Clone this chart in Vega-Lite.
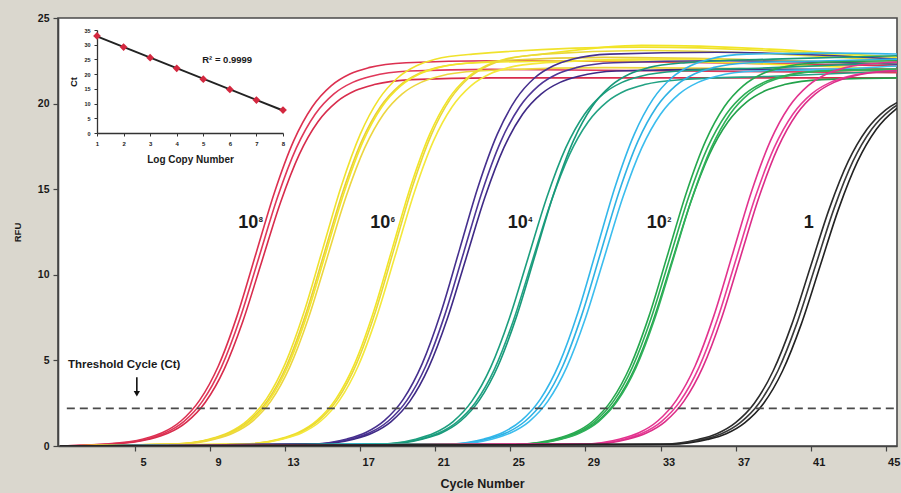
{
"$schema":"https://vega.github.io/schema/vega-lite/v6.json",
"width":839,"height":428,
"autosize":{"type":"none"},
"padding":{"left":58,"top":18,"right":4,"bottom":47},
"background":"#dad7ce",
"config":{"view":{"fill":"white","stroke":"#4a4a4a","strokeWidth":1.6},"font":"Liberation Sans","text":{"font":"Liberation Sans"}},
"datasets":{
"curves":[
{"id":"r1","cycle":1,"rfu":0},{"id":"r1","cycle":3.45,"rfu":0.11},{"id":"r1","cycle":5.45,"rfu":0.41},{"id":"r1","cycle":6.45,"rfu":0.77},{"id":"r1","cycle":7.45,"rfu":1.46},{"id":"r1","cycle":8.45,"rfu":2.68},{"id":"r1","cycle":9.45,"rfu":4.69},{"id":"r1","cycle":10.45,"rfu":7.63},{"id":"r1","cycle":11.45,"rfu":11.25},{"id":"r1","cycle":12.45,"rfu":14.87},{"id":"r1","cycle":13.45,"rfu":17.81},{"id":"r1","cycle":14.45,"rfu":19.82},{"id":"r1","cycle":15.45,"rfu":21.04},{"id":"r1","cycle":16.45,"rfu":21.73},{"id":"r1","cycle":17.45,"rfu":22.1},{"id":"r1","cycle":19.45,"rfu":22.39},{"id":"r1","cycle":24,"rfu":22.5},{"id":"r1","cycle":45.6,"rfu":22.2},
{"id":"r2","cycle":1,"rfu":0},{"id":"r2","cycle":3.6,"rfu":0.11},{"id":"r2","cycle":5.6,"rfu":0.4},{"id":"r2","cycle":6.6,"rfu":0.76},{"id":"r2","cycle":7.6,"rfu":1.43},{"id":"r2","cycle":8.6,"rfu":2.62},{"id":"r2","cycle":9.6,"rfu":4.59},{"id":"r2","cycle":10.6,"rfu":7.46},{"id":"r2","cycle":11.6,"rfu":11.0},{"id":"r2","cycle":12.6,"rfu":14.54},{"id":"r2","cycle":13.6,"rfu":17.41},{"id":"r2","cycle":14.6,"rfu":19.38},{"id":"r2","cycle":15.6,"rfu":20.57},{"id":"r2","cycle":16.6,"rfu":21.24},{"id":"r2","cycle":17.6,"rfu":21.6},{"id":"r2","cycle":19.6,"rfu":21.9},{"id":"r2","cycle":24,"rfu":22.0},{"id":"r2","cycle":45.6,"rfu":21.8},
{"id":"r3","cycle":1,"rfu":0},{"id":"r3","cycle":3.75,"rfu":0.1},{"id":"r3","cycle":5.75,"rfu":0.39},{"id":"r3","cycle":6.75,"rfu":0.74},{"id":"r3","cycle":7.75,"rfu":1.4},{"id":"r3","cycle":8.75,"rfu":2.56},{"id":"r3","cycle":9.75,"rfu":4.48},{"id":"r3","cycle":10.75,"rfu":7.29},{"id":"r3","cycle":11.75,"rfu":10.75},{"id":"r3","cycle":12.75,"rfu":14.21},{"id":"r3","cycle":13.75,"rfu":17.02},{"id":"r3","cycle":14.75,"rfu":18.94},{"id":"r3","cycle":15.75,"rfu":20.1},{"id":"r3","cycle":16.75,"rfu":20.76},{"id":"r3","cycle":17.75,"rfu":21.11},{"id":"r3","cycle":19.75,"rfu":21.4},{"id":"r3","cycle":24,"rfu":21.5},{"id":"r3","cycle":45.6,"rfu":21.5},
{"id":"y1a","cycle":1,"rfu":0},{"id":"y1a","cycle":7,"rfu":0.11},{"id":"y1a","cycle":9,"rfu":0.41},{"id":"y1a","cycle":10,"rfu":0.79},{"id":"y1a","cycle":11,"rfu":1.5},{"id":"y1a","cycle":12,"rfu":2.74},{"id":"y1a","cycle":13,"rfu":4.8},{"id":"y1a","cycle":14,"rfu":7.8},{"id":"y1a","cycle":15,"rfu":11.5},{"id":"y1a","cycle":16,"rfu":15.2},{"id":"y1a","cycle":17,"rfu":18.2},{"id":"y1a","cycle":18,"rfu":20.26},{"id":"y1a","cycle":19,"rfu":21.51},{"id":"y1a","cycle":20,"rfu":22.21},{"id":"y1a","cycle":21,"rfu":22.59},{"id":"y1a","cycle":23,"rfu":22.89},{"id":"y1a","cycle":32,"rfu":23.3},{"id":"y1a","cycle":45.6,"rfu":22.6},
{"id":"y1b","cycle":1,"rfu":0},{"id":"y1b","cycle":7.08,"rfu":0.11},{"id":"y1b","cycle":9.08,"rfu":0.41},{"id":"y1b","cycle":10.08,"rfu":0.77},{"id":"y1b","cycle":11.08,"rfu":1.46},{"id":"y1b","cycle":12.08,"rfu":2.68},{"id":"y1b","cycle":13.08,"rfu":4.69},{"id":"y1b","cycle":14.08,"rfu":7.63},{"id":"y1b","cycle":15.08,"rfu":11.25},{"id":"y1b","cycle":16.08,"rfu":14.87},{"id":"y1b","cycle":17.08,"rfu":17.81},{"id":"y1b","cycle":18.08,"rfu":19.82},{"id":"y1b","cycle":19.08,"rfu":21.04},{"id":"y1b","cycle":20.08,"rfu":21.73},{"id":"y1b","cycle":21.08,"rfu":22.1},{"id":"y1b","cycle":23.08,"rfu":22.39},{"id":"y1b","cycle":30,"rfu":22.7},{"id":"y1b","cycle":45.6,"rfu":22.3},
{"id":"y1c","cycle":1,"rfu":0},{"id":"y1c","cycle":7.16,"rfu":0.11},{"id":"y1c","cycle":9.16,"rfu":0.41},{"id":"y1c","cycle":10.16,"rfu":0.77},{"id":"y1c","cycle":11.16,"rfu":1.46},{"id":"y1c","cycle":12.16,"rfu":2.68},{"id":"y1c","cycle":13.16,"rfu":4.69},{"id":"y1c","cycle":14.16,"rfu":7.63},{"id":"y1c","cycle":15.16,"rfu":11.25},{"id":"y1c","cycle":16.16,"rfu":14.87},{"id":"y1c","cycle":17.16,"rfu":17.81},{"id":"y1c","cycle":18.16,"rfu":19.82},{"id":"y1c","cycle":19.16,"rfu":21.04},{"id":"y1c","cycle":20.16,"rfu":21.73},{"id":"y1c","cycle":21.16,"rfu":22.1},{"id":"y1c","cycle":23.16,"rfu":22.39},{"id":"y1c","cycle":30,"rfu":22.5},{"id":"y1c","cycle":45.6,"rfu":22.0},
{"id":"y1d","cycle":1,"rfu":0},{"id":"y1d","cycle":7.24,"rfu":0.11},{"id":"y1d","cycle":9.24,"rfu":0.4},{"id":"y1d","cycle":10.24,"rfu":0.76},{"id":"y1d","cycle":11.24,"rfu":1.43},{"id":"y1d","cycle":12.24,"rfu":2.62},{"id":"y1d","cycle":13.24,"rfu":4.59},{"id":"y1d","cycle":14.24,"rfu":7.46},{"id":"y1d","cycle":15.24,"rfu":11.0},{"id":"y1d","cycle":16.24,"rfu":14.54},{"id":"y1d","cycle":17.24,"rfu":17.41},{"id":"y1d","cycle":18.24,"rfu":19.38},{"id":"y1d","cycle":19.24,"rfu":20.57},{"id":"y1d","cycle":20.24,"rfu":21.24},{"id":"y1d","cycle":21.24,"rfu":21.6},{"id":"y1d","cycle":23.24,"rfu":21.9},{"id":"y1d","cycle":30,"rfu":22.1},{"id":"y1d","cycle":45.6,"rfu":21.9},
{"id":"y2a","cycle":1,"rfu":0},{"id":"y2a","cycle":10.7,"rfu":0.11},{"id":"y2a","cycle":12.7,"rfu":0.41},{"id":"y2a","cycle":13.7,"rfu":0.79},{"id":"y2a","cycle":14.7,"rfu":1.5},{"id":"y2a","cycle":15.7,"rfu":2.74},{"id":"y2a","cycle":16.7,"rfu":4.8},{"id":"y2a","cycle":17.7,"rfu":7.8},{"id":"y2a","cycle":18.7,"rfu":11.5},{"id":"y2a","cycle":19.7,"rfu":15.2},{"id":"y2a","cycle":20.7,"rfu":18.2},{"id":"y2a","cycle":21.7,"rfu":20.26},{"id":"y2a","cycle":22.7,"rfu":21.51},{"id":"y2a","cycle":23.7,"rfu":22.21},{"id":"y2a","cycle":24.7,"rfu":22.59},{"id":"y2a","cycle":26.7,"rfu":22.89},{"id":"y2a","cycle":32,"rfu":23.4},{"id":"y2a","cycle":45.6,"rfu":22.7},
{"id":"y2b","cycle":1,"rfu":0},{"id":"y2b","cycle":10.8,"rfu":0.11},{"id":"y2b","cycle":12.8,"rfu":0.41},{"id":"y2b","cycle":13.8,"rfu":0.79},{"id":"y2b","cycle":14.8,"rfu":1.5},{"id":"y2b","cycle":15.8,"rfu":2.74},{"id":"y2b","cycle":16.8,"rfu":4.8},{"id":"y2b","cycle":17.8,"rfu":7.8},{"id":"y2b","cycle":18.8,"rfu":11.5},{"id":"y2b","cycle":19.8,"rfu":15.2},{"id":"y2b","cycle":20.8,"rfu":18.2},{"id":"y2b","cycle":21.8,"rfu":20.26},{"id":"y2b","cycle":22.8,"rfu":21.51},{"id":"y2b","cycle":23.8,"rfu":22.21},{"id":"y2b","cycle":24.8,"rfu":22.59},{"id":"y2b","cycle":26.8,"rfu":22.89},{"id":"y2b","cycle":32,"rfu":23.1},{"id":"y2b","cycle":45.6,"rfu":22.5},
{"id":"y2c","cycle":1,"rfu":0},{"id":"y2c","cycle":10.9,"rfu":0.11},{"id":"y2c","cycle":12.9,"rfu":0.41},{"id":"y2c","cycle":13.9,"rfu":0.77},{"id":"y2c","cycle":14.9,"rfu":1.46},{"id":"y2c","cycle":15.9,"rfu":2.68},{"id":"y2c","cycle":16.9,"rfu":4.69},{"id":"y2c","cycle":17.9,"rfu":7.63},{"id":"y2c","cycle":18.9,"rfu":11.25},{"id":"y2c","cycle":19.9,"rfu":14.87},{"id":"y2c","cycle":20.9,"rfu":17.81},{"id":"y2c","cycle":21.9,"rfu":19.82},{"id":"y2c","cycle":22.9,"rfu":21.04},{"id":"y2c","cycle":23.9,"rfu":21.73},{"id":"y2c","cycle":24.9,"rfu":22.1},{"id":"y2c","cycle":26.9,"rfu":22.39},{"id":"y2c","cycle":32,"rfu":22.6},{"id":"y2c","cycle":45.6,"rfu":22.3},
{"id":"p1","cycle":1,"rfu":0},{"id":"p1","cycle":14.3,"rfu":0.11},{"id":"p1","cycle":16.3,"rfu":0.41},{"id":"p1","cycle":17.3,"rfu":0.79},{"id":"p1","cycle":18.3,"rfu":1.5},{"id":"p1","cycle":19.3,"rfu":2.74},{"id":"p1","cycle":20.3,"rfu":4.8},{"id":"p1","cycle":21.3,"rfu":7.8},{"id":"p1","cycle":22.3,"rfu":11.5},{"id":"p1","cycle":23.3,"rfu":15.2},{"id":"p1","cycle":24.3,"rfu":18.2},{"id":"p1","cycle":25.3,"rfu":20.26},{"id":"p1","cycle":26.3,"rfu":21.51},{"id":"p1","cycle":27.3,"rfu":22.21},{"id":"p1","cycle":28.3,"rfu":22.59},{"id":"p1","cycle":30.3,"rfu":22.89},{"id":"p1","cycle":36,"rfu":23.0},{"id":"p1","cycle":45.6,"rfu":22.6},
{"id":"p2","cycle":1,"rfu":0},{"id":"p2","cycle":14.5,"rfu":0.11},{"id":"p2","cycle":16.5,"rfu":0.41},{"id":"p2","cycle":17.5,"rfu":0.77},{"id":"p2","cycle":18.5,"rfu":1.46},{"id":"p2","cycle":19.5,"rfu":2.68},{"id":"p2","cycle":20.5,"rfu":4.69},{"id":"p2","cycle":21.5,"rfu":7.63},{"id":"p2","cycle":22.5,"rfu":11.25},{"id":"p2","cycle":23.5,"rfu":14.87},{"id":"p2","cycle":24.5,"rfu":17.81},{"id":"p2","cycle":25.5,"rfu":19.82},{"id":"p2","cycle":26.5,"rfu":21.04},{"id":"p2","cycle":27.5,"rfu":21.73},{"id":"p2","cycle":28.5,"rfu":22.1},{"id":"p2","cycle":30.5,"rfu":22.39},{"id":"p2","cycle":36,"rfu":22.5},{"id":"p2","cycle":45.6,"rfu":22.3},
{"id":"p3","cycle":1,"rfu":0},{"id":"p3","cycle":14.65,"rfu":0.11},{"id":"p3","cycle":16.65,"rfu":0.4},{"id":"p3","cycle":17.65,"rfu":0.76},{"id":"p3","cycle":18.65,"rfu":1.43},{"id":"p3","cycle":19.65,"rfu":2.62},{"id":"p3","cycle":20.65,"rfu":4.59},{"id":"p3","cycle":21.65,"rfu":7.46},{"id":"p3","cycle":22.65,"rfu":11.0},{"id":"p3","cycle":23.65,"rfu":14.54},{"id":"p3","cycle":24.65,"rfu":17.41},{"id":"p3","cycle":25.65,"rfu":19.38},{"id":"p3","cycle":26.65,"rfu":20.57},{"id":"p3","cycle":27.65,"rfu":21.24},{"id":"p3","cycle":28.65,"rfu":21.6},{"id":"p3","cycle":30.65,"rfu":21.9},{"id":"p3","cycle":36,"rfu":22.0},{"id":"p3","cycle":45.6,"rfu":22.0},
{"id":"t1","cycle":1,"rfu":0},{"id":"t1","cycle":17.95,"rfu":0.11},{"id":"t1","cycle":19.95,"rfu":0.4},{"id":"t1","cycle":20.95,"rfu":0.76},{"id":"t1","cycle":21.95,"rfu":1.43},{"id":"t1","cycle":22.95,"rfu":2.62},{"id":"t1","cycle":23.95,"rfu":4.59},{"id":"t1","cycle":24.95,"rfu":7.46},{"id":"t1","cycle":25.95,"rfu":11.0},{"id":"t1","cycle":26.95,"rfu":14.54},{"id":"t1","cycle":27.95,"rfu":17.41},{"id":"t1","cycle":28.95,"rfu":19.38},{"id":"t1","cycle":29.95,"rfu":20.57},{"id":"t1","cycle":30.95,"rfu":21.24},{"id":"t1","cycle":31.95,"rfu":21.6},{"id":"t1","cycle":33.95,"rfu":21.9},{"id":"t1","cycle":39,"rfu":22.1},{"id":"t1","cycle":45.6,"rfu":22.4},
{"id":"t2","cycle":1,"rfu":0},{"id":"t2","cycle":18.15,"rfu":0.1},{"id":"t2","cycle":20.15,"rfu":0.39},{"id":"t2","cycle":21.15,"rfu":0.74},{"id":"t2","cycle":22.15,"rfu":1.4},{"id":"t2","cycle":23.15,"rfu":2.56},{"id":"t2","cycle":24.15,"rfu":4.48},{"id":"t2","cycle":25.15,"rfu":7.29},{"id":"t2","cycle":26.15,"rfu":10.75},{"id":"t2","cycle":27.15,"rfu":14.21},{"id":"t2","cycle":28.15,"rfu":17.02},{"id":"t2","cycle":29.15,"rfu":18.94},{"id":"t2","cycle":30.15,"rfu":20.1},{"id":"t2","cycle":31.15,"rfu":20.76},{"id":"t2","cycle":32.15,"rfu":21.11},{"id":"t2","cycle":34.15,"rfu":21.4},{"id":"t2","cycle":39,"rfu":21.6},{"id":"t2","cycle":45.6,"rfu":21.9},
{"id":"t3","cycle":1,"rfu":0},{"id":"t3","cycle":18.35,"rfu":0.11},{"id":"t3","cycle":20.35,"rfu":0.41},{"id":"t3","cycle":21.35,"rfu":0.77},{"id":"t3","cycle":22.35,"rfu":1.46},{"id":"t3","cycle":23.35,"rfu":2.68},{"id":"t3","cycle":24.35,"rfu":4.69},{"id":"t3","cycle":25.35,"rfu":7.63},{"id":"t3","cycle":26.35,"rfu":11.25},{"id":"t3","cycle":27.35,"rfu":14.87},{"id":"t3","cycle":28.35,"rfu":17.81},{"id":"t3","cycle":29.35,"rfu":19.82},{"id":"t3","cycle":30.35,"rfu":21.04},{"id":"t3","cycle":31.35,"rfu":21.73},{"id":"t3","cycle":32.35,"rfu":22.1},{"id":"t3","cycle":34.35,"rfu":22.39},{"id":"t3","cycle":39,"rfu":22.6},{"id":"t3","cycle":45.6,"rfu":22.8},
{"id":"b1","cycle":1,"rfu":0},{"id":"b1","cycle":21.6,"rfu":0.11},{"id":"b1","cycle":23.6,"rfu":0.41},{"id":"b1","cycle":24.6,"rfu":0.79},{"id":"b1","cycle":25.6,"rfu":1.5},{"id":"b1","cycle":26.6,"rfu":2.74},{"id":"b1","cycle":27.6,"rfu":4.8},{"id":"b1","cycle":28.6,"rfu":7.8},{"id":"b1","cycle":29.6,"rfu":11.5},{"id":"b1","cycle":30.6,"rfu":15.2},{"id":"b1","cycle":31.6,"rfu":18.2},{"id":"b1","cycle":32.6,"rfu":20.26},{"id":"b1","cycle":33.6,"rfu":21.51},{"id":"b1","cycle":34.6,"rfu":22.21},{"id":"b1","cycle":35.6,"rfu":22.59},{"id":"b1","cycle":37.6,"rfu":22.89},{"id":"b1","cycle":42,"rfu":22.95},{"id":"b1","cycle":45.6,"rfu":22.9},
{"id":"b2","cycle":1,"rfu":0},{"id":"b2","cycle":21.8,"rfu":0.11},{"id":"b2","cycle":23.8,"rfu":0.41},{"id":"b2","cycle":24.8,"rfu":0.77},{"id":"b2","cycle":25.8,"rfu":1.46},{"id":"b2","cycle":26.8,"rfu":2.68},{"id":"b2","cycle":27.8,"rfu":4.69},{"id":"b2","cycle":28.8,"rfu":7.63},{"id":"b2","cycle":29.8,"rfu":11.25},{"id":"b2","cycle":30.8,"rfu":14.87},{"id":"b2","cycle":31.8,"rfu":17.81},{"id":"b2","cycle":32.8,"rfu":19.82},{"id":"b2","cycle":33.8,"rfu":21.04},{"id":"b2","cycle":34.8,"rfu":21.73},{"id":"b2","cycle":35.8,"rfu":22.1},{"id":"b2","cycle":37.8,"rfu":22.39},{"id":"b2","cycle":42,"rfu":22.5},{"id":"b2","cycle":45.6,"rfu":22.6},
{"id":"b3","cycle":1,"rfu":0},{"id":"b3","cycle":22,"rfu":0.11},{"id":"b3","cycle":24,"rfu":0.4},{"id":"b3","cycle":25,"rfu":0.76},{"id":"b3","cycle":26,"rfu":1.43},{"id":"b3","cycle":27,"rfu":2.62},{"id":"b3","cycle":28,"rfu":4.59},{"id":"b3","cycle":29,"rfu":7.46},{"id":"b3","cycle":30,"rfu":11.0},{"id":"b3","cycle":31,"rfu":14.54},{"id":"b3","cycle":32,"rfu":17.41},{"id":"b3","cycle":33,"rfu":19.38},{"id":"b3","cycle":34,"rfu":20.57},{"id":"b3","cycle":35,"rfu":21.24},{"id":"b3","cycle":36,"rfu":21.6},{"id":"b3","cycle":38,"rfu":21.9},{"id":"b3","cycle":42,"rfu":22.0},{"id":"b3","cycle":45.6,"rfu":22.2},
{"id":"g1","cycle":1,"rfu":0},{"id":"g1","cycle":25.4,"rfu":0.11},{"id":"g1","cycle":27.4,"rfu":0.41},{"id":"g1","cycle":28.4,"rfu":0.77},{"id":"g1","cycle":29.4,"rfu":1.46},{"id":"g1","cycle":30.4,"rfu":2.68},{"id":"g1","cycle":31.4,"rfu":4.69},{"id":"g1","cycle":32.4,"rfu":7.63},{"id":"g1","cycle":33.4,"rfu":11.25},{"id":"g1","cycle":34.4,"rfu":14.87},{"id":"g1","cycle":35.4,"rfu":17.81},{"id":"g1","cycle":36.4,"rfu":19.82},{"id":"g1","cycle":37.4,"rfu":21.04},{"id":"g1","cycle":38.4,"rfu":21.73},{"id":"g1","cycle":39.4,"rfu":22.1},{"id":"g1","cycle":41.4,"rfu":22.39},{"id":"g1","cycle":45.6,"rfu":22.5},
{"id":"g2","cycle":1,"rfu":0},{"id":"g2","cycle":25.5,"rfu":0.11},{"id":"g2","cycle":27.5,"rfu":0.4},{"id":"g2","cycle":28.5,"rfu":0.76},{"id":"g2","cycle":29.5,"rfu":1.43},{"id":"g2","cycle":30.5,"rfu":2.62},{"id":"g2","cycle":31.5,"rfu":4.59},{"id":"g2","cycle":32.5,"rfu":7.46},{"id":"g2","cycle":33.5,"rfu":11.0},{"id":"g2","cycle":34.5,"rfu":14.54},{"id":"g2","cycle":35.5,"rfu":17.41},{"id":"g2","cycle":36.5,"rfu":19.38},{"id":"g2","cycle":37.5,"rfu":20.57},{"id":"g2","cycle":38.5,"rfu":21.24},{"id":"g2","cycle":39.5,"rfu":21.6},{"id":"g2","cycle":41.5,"rfu":21.9},{"id":"g2","cycle":45.6,"rfu":22.0},
{"id":"g3","cycle":1,"rfu":0},{"id":"g3","cycle":25.6,"rfu":0.1},{"id":"g3","cycle":27.6,"rfu":0.39},{"id":"g3","cycle":28.6,"rfu":0.74},{"id":"g3","cycle":29.6,"rfu":1.4},{"id":"g3","cycle":30.6,"rfu":2.56},{"id":"g3","cycle":31.6,"rfu":4.48},{"id":"g3","cycle":32.6,"rfu":7.29},{"id":"g3","cycle":33.6,"rfu":10.75},{"id":"g3","cycle":34.6,"rfu":14.21},{"id":"g3","cycle":35.6,"rfu":17.02},{"id":"g3","cycle":36.6,"rfu":18.94},{"id":"g3","cycle":37.6,"rfu":20.1},{"id":"g3","cycle":38.6,"rfu":20.76},{"id":"g3","cycle":39.6,"rfu":21.11},{"id":"g3","cycle":41.6,"rfu":21.4},{"id":"g3","cycle":45.6,"rfu":21.5},
{"id":"g4","cycle":1,"rfu":0},{"id":"g4","cycle":25.7,"rfu":0.11},{"id":"g4","cycle":27.7,"rfu":0.4},{"id":"g4","cycle":28.7,"rfu":0.76},{"id":"g4","cycle":29.7,"rfu":1.43},{"id":"g4","cycle":30.7,"rfu":2.62},{"id":"g4","cycle":31.7,"rfu":4.59},{"id":"g4","cycle":32.7,"rfu":7.46},{"id":"g4","cycle":33.7,"rfu":11.0},{"id":"g4","cycle":34.7,"rfu":14.54},{"id":"g4","cycle":35.7,"rfu":17.41},{"id":"g4","cycle":36.7,"rfu":19.38},{"id":"g4","cycle":37.7,"rfu":20.57},{"id":"g4","cycle":38.7,"rfu":21.24},{"id":"g4","cycle":39.7,"rfu":21.6},{"id":"g4","cycle":41.7,"rfu":21.9},{"id":"g4","cycle":45.6,"rfu":22.0},
{"id":"m1","cycle":1,"rfu":0},{"id":"m1","cycle":28.85,"rfu":0.11},{"id":"m1","cycle":30.85,"rfu":0.41},{"id":"m1","cycle":31.85,"rfu":0.77},{"id":"m1","cycle":32.85,"rfu":1.46},{"id":"m1","cycle":33.85,"rfu":2.68},{"id":"m1","cycle":34.85,"rfu":4.69},{"id":"m1","cycle":35.85,"rfu":7.63},{"id":"m1","cycle":36.85,"rfu":11.25},{"id":"m1","cycle":37.85,"rfu":14.87},{"id":"m1","cycle":38.85,"rfu":17.81},{"id":"m1","cycle":39.85,"rfu":19.82},{"id":"m1","cycle":40.85,"rfu":21.04},{"id":"m1","cycle":41.85,"rfu":21.73},{"id":"m1","cycle":42.85,"rfu":22.1},{"id":"m1","cycle":44.85,"rfu":22.39},{"id":"m1","cycle":45.6,"rfu":22.42},
{"id":"m2","cycle":1,"rfu":0},{"id":"m2","cycle":29.05,"rfu":0.11},{"id":"m2","cycle":31.05,"rfu":0.4},{"id":"m2","cycle":32.05,"rfu":0.76},{"id":"m2","cycle":33.05,"rfu":1.43},{"id":"m2","cycle":34.05,"rfu":2.62},{"id":"m2","cycle":35.05,"rfu":4.59},{"id":"m2","cycle":36.05,"rfu":7.46},{"id":"m2","cycle":37.05,"rfu":11.0},{"id":"m2","cycle":38.05,"rfu":14.54},{"id":"m2","cycle":39.05,"rfu":17.41},{"id":"m2","cycle":40.05,"rfu":19.38},{"id":"m2","cycle":41.05,"rfu":20.57},{"id":"m2","cycle":42.05,"rfu":21.24},{"id":"m2","cycle":43.05,"rfu":21.6},{"id":"m2","cycle":45.05,"rfu":21.9},{"id":"m2","cycle":45.6,"rfu":21.93},
{"id":"m3","cycle":1,"rfu":0},{"id":"m3","cycle":29.25,"rfu":0.11},{"id":"m3","cycle":31.25,"rfu":0.4},{"id":"m3","cycle":32.25,"rfu":0.76},{"id":"m3","cycle":33.25,"rfu":1.43},{"id":"m3","cycle":34.25,"rfu":2.62},{"id":"m3","cycle":35.25,"rfu":4.59},{"id":"m3","cycle":36.25,"rfu":7.46},{"id":"m3","cycle":37.25,"rfu":11.0},{"id":"m3","cycle":38.25,"rfu":14.54},{"id":"m3","cycle":39.25,"rfu":17.41},{"id":"m3","cycle":40.25,"rfu":19.38},{"id":"m3","cycle":41.25,"rfu":20.57},{"id":"m3","cycle":42.25,"rfu":21.24},{"id":"m3","cycle":43.25,"rfu":21.6},{"id":"m3","cycle":45.25,"rfu":21.9},{"id":"m3","cycle":45.6,"rfu":21.92},
{"id":"k1","cycle":1,"rfu":0},{"id":"k1","cycle":33,"rfu":0.1},{"id":"k1","cycle":35,"rfu":0.38},{"id":"k1","cycle":36,"rfu":0.72},{"id":"k1","cycle":37,"rfu":1.37},{"id":"k1","cycle":38,"rfu":2.5},{"id":"k1","cycle":39,"rfu":4.38},{"id":"k1","cycle":40,"rfu":7.12},{"id":"k1","cycle":41,"rfu":10.5},{"id":"k1","cycle":42,"rfu":13.88},{"id":"k1","cycle":43,"rfu":16.62},{"id":"k1","cycle":44,"rfu":18.5},{"id":"k1","cycle":45,"rfu":19.64},{"id":"k1","cycle":46,"rfu":20.28},
{"id":"k2","cycle":1,"rfu":0},{"id":"k2","cycle":33.25,"rfu":0.1},{"id":"k2","cycle":35.25,"rfu":0.38},{"id":"k2","cycle":36.25,"rfu":0.72},{"id":"k2","cycle":37.25,"rfu":1.37},{"id":"k2","cycle":38.25,"rfu":2.5},{"id":"k2","cycle":39.25,"rfu":4.38},{"id":"k2","cycle":40.25,"rfu":7.12},{"id":"k2","cycle":41.25,"rfu":10.5},{"id":"k2","cycle":42.25,"rfu":13.88},{"id":"k2","cycle":43.25,"rfu":16.62},{"id":"k2","cycle":44.25,"rfu":18.5},{"id":"k2","cycle":45.25,"rfu":19.64},{"id":"k2","cycle":46.25,"rfu":20.28},
{"id":"k3","cycle":1,"rfu":0},{"id":"k3","cycle":33.5,"rfu":0.1},{"id":"k3","cycle":35.5,"rfu":0.38},{"id":"k3","cycle":36.5,"rfu":0.72},{"id":"k3","cycle":37.5,"rfu":1.37},{"id":"k3","cycle":38.5,"rfu":2.5},{"id":"k3","cycle":39.5,"rfu":4.38},{"id":"k3","cycle":40.5,"rfu":7.12},{"id":"k3","cycle":41.5,"rfu":10.5},{"id":"k3","cycle":42.5,"rfu":13.88},{"id":"k3","cycle":43.5,"rfu":16.62},{"id":"k3","cycle":44.5,"rfu":18.5},{"id":"k3","cycle":45.5,"rfu":19.64},{"id":"k3","cycle":46.5,"rfu":20.28}
],
"standard":[
{"log":1,"ct":33.0},{"log":2,"ct":29.2},{"log":3,"ct":25.6},{"log":4,"ct":22.0},{"log":5,"ct":18.3},{"log":6,"ct":14.8},{"log":7,"ct":11.2},{"log":8,"ct":7.8}
],
"dilutions":[
{"cycle":11.04,"rfu":13.0,"base":"10","sup":"8"},{"cycle":18.07,"rfu":13.0,"base":"10","sup":"6"},{"cycle":25.4,"rfu":13.0,"base":"10","sup":"4"},{"cycle":32.8,"rfu":13.0,"base":"10","sup":"2"},{"cycle":40.9,"rfu":13.0,"base":"1","sup":""}
]
},
"layer":[
{"layer":[
{"data":{"name":"curves"},
 "mark":{"type":"line","interpolate":"monotone","clip":true,"strokeWidth":1.6},
 "encoding":{
  "x":{"field":"cycle","type":"quantitative","scale":{"domain":[0.9,45.6],"nice":false,"zero":false},
   "axis":{"values":[5,9,13,17,21,25,29,33,37,41,45],"title":"Cycle Number","grid":false,"labelOffset":8,"labelFont":"Liberation Sans","labelFontSize":11,"labelFontWeight":"bold","labelColor":"#1a1a1a","labelPadding":5,"labelFlush":false,"labelOverlap":false,"tickSize":5,"tickColor":"#444","tickWidth":1.2,"domainColor":"#444","domainWidth":1.6,"titleFont":"Liberation Sans","titleFontSize":12.5,"titleFontWeight":"bold","titleColor":"#1a1a1a","titlePadding":10,"titleX":424}},
  "y":{"field":"rfu","type":"quantitative","scale":{"domain":[0,25],"nice":false},
   "axis":{"values":[0,5,10,15,20,25],"title":"RFU","grid":false,"labelFont":"Liberation Sans","labelFontSize":10.5,"labelFontWeight":"bold","labelColor":"#1a1a1a","labelPadding":4,"labelFlush":false,"tickSize":5,"tickColor":"#444","tickWidth":1.2,"domainColor":"#444","domainWidth":1.6,"titleFont":"Liberation Sans","titleFontSize":9.5,"titleFontWeight":"bold","titleColor":"#1a1a1a","titlePadding":15}},
  "color":{"field":"id","type":"nominal","legend":null,
   "scale":{"domain":["r1","r2","r3","y1a","y1b","y1c","y1d","y2a","y2b","y2c","p1","p2","p3","t1","t2","t3","b1","b2","b3","g1","g2","g3","g4","m1","m2","m3","k1","k2","k3"],
    "range":["#dc3050","#e0385a","#d82c4c","#f0e22c","#e6cc3c","#f3e62a","#ecd640","#f2e526","#e9d838","#f4e83a","#46308e","#4e3696","#3f2a86","#1c9e7e","#22a283","#18997a","#33b7ea","#2fb2e4","#3bbdee","#26a84e","#2dae55","#22a24a","#30b15a","#e2338e","#e83c96","#dc2d88","#2b2b2b","#3a3a3a","#222222"]}},
  "detail":{"field":"id"}
 }},
{"data":{"values":[{"cycle":1.37,"cycle2":45.6,"rfu":2.2}]},
 "mark":{"type":"rule","strokeDash":[8,5],"color":"#4a4a4a","strokeWidth":1.6},
 "encoding":{"x":{"field":"cycle","type":"quantitative"},"x2":{"field":"cycle2"},"y":{"field":"rfu","type":"quantitative"}}},
{"data":{"values":[{"cycle":5.1,"rfu":4.02,"rfu2":3.2}]},
 "mark":{"type":"rule","color":"#111","strokeWidth":1.6},
 "encoding":{"x":{"field":"cycle","type":"quantitative"},"y":{"field":"rfu","type":"quantitative"},"y2":{"field":"rfu2"}}},
{"data":{"values":[{"cycle":5.1,"rfu":3.05}]},
 "mark":{"type":"point","shape":"triangle-down","filled":true,"color":"#111","size":40,"opacity":1},
 "encoding":{"x":{"field":"cycle","type":"quantitative"},"y":{"field":"rfu","type":"quantitative"}}},
{"data":{"values":[{"cycle":1.43,"rfu":4.74,"label":"Threshold Cycle (Ct)"}]},
 "mark":{"type":"text","align":"left","baseline":"middle","font":"Liberation Sans","fontSize":11.5,"fontWeight":"bold","color":"#1a1a1a"},
 "encoding":{"x":{"field":"cycle","type":"quantitative"},"y":{"field":"rfu","type":"quantitative"},"text":{"field":"label"}}},
{"data":{"name":"dilutions"},
 "mark":{"type":"text","align":"center","baseline":"middle","font":"Liberation Sans","fontSize":18,"fontWeight":"bold","color":"#1a1a1a"},
 "encoding":{"x":{"field":"cycle","type":"quantitative"},"y":{"field":"rfu","type":"quantitative"},"text":{"field":"base"}}},
{"data":{"name":"dilutions"},
 "mark":{"type":"text","align":"left","baseline":"top","dx":10.5,"dy":-7,"font":"Liberation Sans","fontSize":7.5,"fontWeight":"bold","color":"#1a1a1a"},
 "encoding":{"x":{"field":"cycle","type":"quantitative"},"y":{"field":"rfu","type":"quantitative"},"text":{"field":"sup"}}}
]},
{"layer":[
{"data":{"name":"standard"},
 "transform":[{"regression":"ct","on":"log"}],
 "mark":{"type":"line","color":"#222","strokeWidth":2},
 "encoding":{
  "x":{"field":"log","type":"quantitative","scale":{"domain":[1,8],"range":[39,225],"nice":false,"zero":false},
   "axis":{"orient":"bottom","offset":-313,"values":[1,2,3,4,5,6,7,8],"format":"d","title":"Log Copy Number","grid":false,"labelFont":"Liberation Sans","labelFontSize":6,"labelFontWeight":"bold","labelColor":"#1a1a1a","labelPadding":4,"labelFlush":false,"tickSize":3,"tickColor":"#333","domainColor":"#333","domainWidth":1.3,"titleFont":"Liberation Sans","titleFontSize":10,"titleFontWeight":"bold","titleColor":"#1a1a1a","titlePadding":8}},
  "y":{"field":"ct","type":"quantitative","scale":{"domain":[0,35],"range":[115,12],"nice":false},
   "axis":{"orient":"left","offset":-39,"values":[0,5,10,15,20,25,30,35],"format":"d","title":"Ct","grid":false,"labelFont":"Liberation Sans","labelFontSize":5.5,"labelFontWeight":"bold","labelColor":"#1a1a1a","labelPadding":4,"labelFlush":false,"tickSize":3,"tickColor":"#333","domainColor":"#333","domainWidth":1.3,"titleFont":"Liberation Sans","titleFontSize":9.5,"titleFontWeight":"bold","titleColor":"#1a1a1a","titlePadding":5}}
 }},
{"data":{"name":"standard"},
 "mark":{"type":"point","shape":"diamond","filled":true,"color":"#d3283f","size":60,"opacity":1},
 "encoding":{"x":{"field":"log","type":"quantitative"},"y":{"field":"ct","type":"quantitative"}}},
{"data":{"values":[{"log":5.9,"ct":24.8,"label":"R² = 0.9999"}]},
 "mark":{"type":"text","align":"center","baseline":"middle","font":"Liberation Sans","fontSize":9.5,"fontWeight":"bold","color":"#1a1a1a"},
 "encoding":{"x":{"field":"log","type":"quantitative"},"y":{"field":"ct","type":"quantitative"},"text":{"field":"label"}}}
]}
],
"resolve":{"scale":{"x":"independent","y":"independent"},"axis":{"x":"independent","y":"independent"}}
}
